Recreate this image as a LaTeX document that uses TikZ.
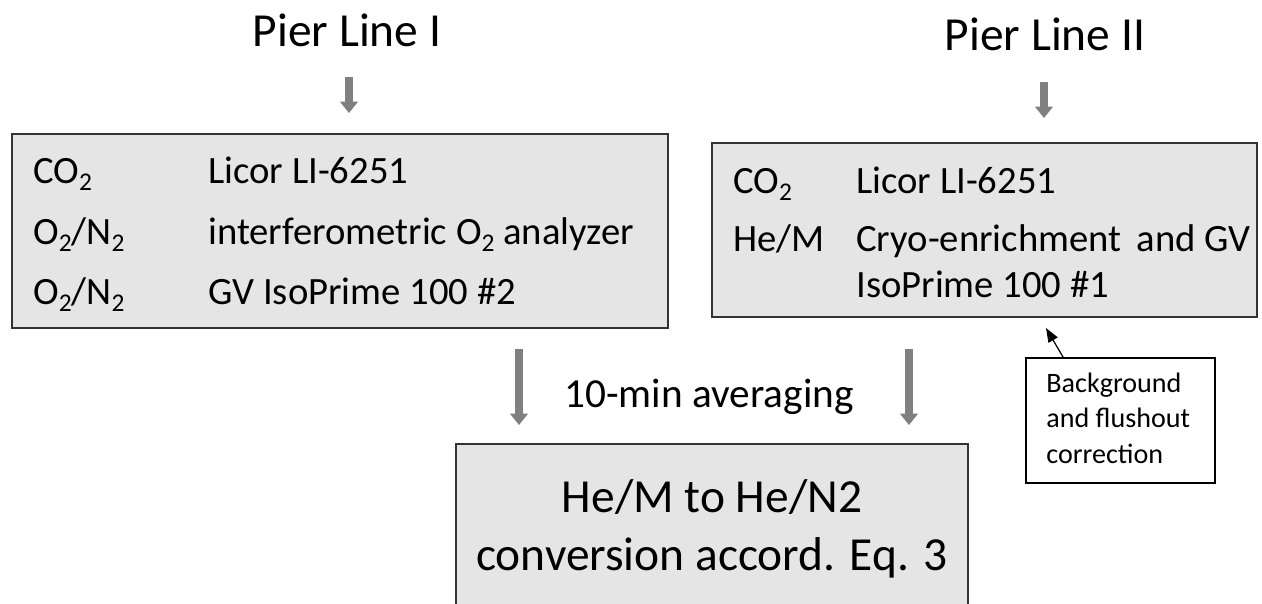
\documentclass[tikz,border=0pt]{standalone}
\usepackage{fontspec}
\setmainfont{Carlito}
\usetikzlibrary{arrows.meta,fit}

\newcommand{\lowtwo}{\raisebox{-4.5pt}{\fontsize{14.5}{14.5}\selectfont 2}}

\tikzset{
  gbox/.style={draw=black!80, line width=1.4pt, fill=black!10, inner sep=0pt},
  nbox/.style={draw=black, line width=1.1pt, fill=white, inner sep=0pt},
  grayarr/.style={draw=black!50, line width=4.5pt, -{Triangle[width=10pt,length=6.5pt]}},
  thinarr/.style={draw=black, line width=0.7pt, -{Triangle[width=6pt,length=8pt]}},
  row/.style={anchor=base west, inner sep=0pt, font=\fontsize{22}{26}\selectfont, align=left},
  big/.style={inner sep=0pt, font=\fontsize{27}{32.5}\selectfont, align=center}
}

\begin{document}
\begin{tikzpicture}[x=0.02cm,y=-0.02cm]
\useasboundingbox (0,0) rectangle (1262,603);
% titles
\node[big, anchor=base] (pl1) at (347,46) {Pier Line I};
\node[big, anchor=base] (pl2) at (1045,50) {Pier Line II};
% boxes
\node[gbox, fit={(12,134) (668,328)}] (box1) {};
\node[gbox, fit={(712,143) (1257,317)}] (box2) {};
\node[gbox, fit={(456,444) (968,640)}] (conv) {};
\node[nbox, fit={(1026,358) (1215,483)}] (note) {};
% Pier Line I
\node[row] (g11) at (33,183) {CO\lowtwo};
\node[row] (d11) at (208,183) {Licor LI-6251};
\node[row] (g12) at (33,244) {O\lowtwo/N\lowtwo};
\node[row] (d12) at (208,244) {interferometric O\lowtwo{} analyzer};
\node[row] (g13) at (33,304) {O\lowtwo/N\lowtwo};
\node[row] (d13) at (208,304) {GV IsoPrime 100 \#2};
% Pier Line II (multi-line nodes sit on their last line)
\node[row] (g21) at (733,193) {CO\lowtwo};
\node[row] (d21) at (856,193) {Licor LI-6251};
\node[row] (g22) at (733,251) {He/M};
\node[row] (d22) at (856,297) {Cryo-enrichment\, and GV\\IsoPrime 100 \#1};
% averaging and conversion
\node[anchor=base, inner sep=0pt, font=\fontsize{23.5}{28}\selectfont] (avg) at (709,407) {10-min averaging};
\node[big, anchor=base] (eq) at (712,570) {He/M to He/N2\\conversion accord. Eq. 3};
\node[anchor=base west, inner sep=0pt, align=left, font=\fontsize{16}{20}\selectfont] (bg) at (1046,463) {Background\\and flushout\\correction};
% arrows
\coordinate (a1) at (349,77);  \coordinate (b1) at (349,113);
\coordinate (a2) at (1044,82); \coordinate (b2) at (1044,118);
\coordinate (a3) at (519,349); \coordinate (b3) at (519,425);
\coordinate (a4) at (909,349); \coordinate (b4) at (909,425);
\coordinate (tip) at (1046,328);
\draw[grayarr] (a1) -- (b1);
\draw[grayarr] (a2) -- (b2);
\draw[grayarr] (a3) -- (b3);
\draw[grayarr] (a4) -- (b4);
\draw[thinarr] (note.north west) ++(38,0) -- (tip);
\end{tikzpicture}
\end{document}
